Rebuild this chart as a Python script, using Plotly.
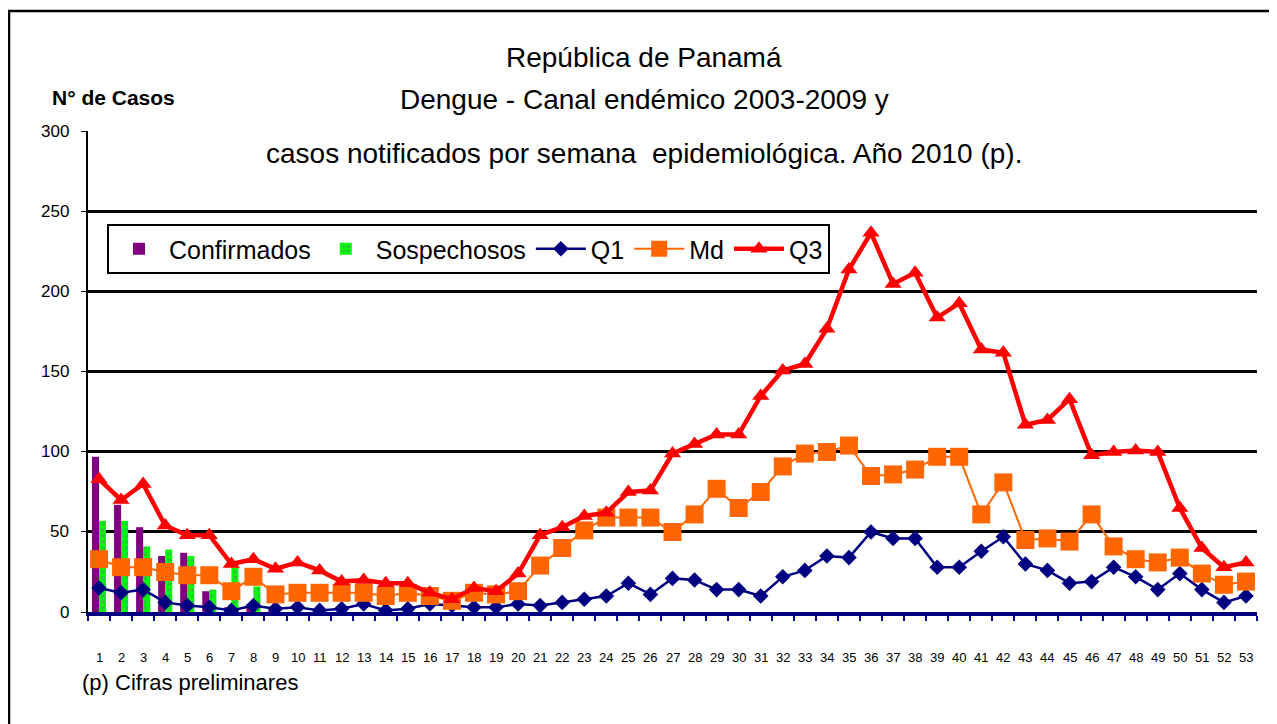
import plotly.graph_objects as go

weeks = [str(i) for i in range(1, 54)]

confirmados = [97, 67, 53, 35, 37, 13, 3, 5, 2] + [None] * 44
sospechosos = [57, 57, 41, 39, 35, 14, 28, 16, 0] + [None] * 44

q1 = [15, 12, 14, 6, 4, 3, 1, 4, 2, 3,
      1, 2, 5, 1, 2, 5, 4, 3, 3, 5,
      4, 6, 8, 10, 18, 11, 21, 20, 14, 14,
      10, 22, 26, 35, 34, 50, 46, 46, 28, 28,
      38, 47, 30, 26, 18, 19, 28, 22, 14, 24,
      14, 6, 10]
md = [33, 28, 28, 25, 23, 23, 13, 22, 11, 12,
      12, 12, 12, 10, 12, 10, 7, 12, 11, 13,
      29, 40, 51, 59, 59, 59, 50, 61, 77, 65,
      75, 91, 99, 100, 104, 85, 86, 89, 97, 97,
      61, 81, 45, 46, 44, 61, 41, 33, 31, 34,
      24, 17, 19]
q3 = [83, 70, 80, 54, 48, 48, 30, 33, 27, 31,
      26, 19, 20, 18, 18, 12, 8, 15, 13, 24,
      48, 53, 60, 62, 75, 76, 99, 105, 111, 111,
      135, 151, 155, 177, 214, 237, 205, 212, 184, 193,
      164, 162, 117, 120, 133, 98, 100, 101, 100, 65,
      40, 28, 31]

y_ticks = [0, 50, 100, 150, 200, 250, 300]

title_lines = ["República de Panamá",
               "Dengue - Canal endémico 2003-2009 y",
               "casos notificados por semana  epidemiológica. Año 2010 (p)."]

FONT = "Liberation Sans Narrow, Arial Narrow, Liberation Sans, Arial, sans-serif"

fig = go.Figure()
fig.add_trace(go.Bar(x=weeks, y=confirmados, name="Confirmados",
                     marker=dict(color="#800080", line=dict(width=0))))
fig.add_trace(go.Bar(x=weeks, y=sospechosos, name="Sospechosos",
                     marker=dict(color="#00FF00", line=dict(width=0),
                                 pattern=dict(shape=".", fgcolor="#4C9A6A",
                                              size=6, solidity=0.45))))
fig.add_trace(go.Scatter(x=weeks, y=q1, name="Q1", mode="lines+markers",
                         line=dict(color="#000080", width=2.5),
                         marker=dict(symbol="diamond", size=12, color="#000080")))
fig.add_trace(go.Scatter(x=weeks, y=md, name="Md", mode="lines+markers",
                         line=dict(color="#FF6600", width=2),
                         marker=dict(symbol="square", size=18, color="#FF6600")))
fig.add_trace(go.Scatter(x=weeks, y=q3, name="Q3", mode="lines+markers",
                         line=dict(color="#FF0000", width=4.5),
                         marker=dict(symbol="triangle-up", size=15, color="#FF0000")))

OFF = 8  # page body margin
W, H = 1277 - OFF, 724 - OFF
L = 88 - OFF
T = 131 - OFF
R = W - (1257 - OFF)
B = H - (612 - OFF)
pw, ph = W - L - R, H - T - B

def px(x):  # screen pixel -> paper x
    return (x - OFF - L) / pw

def py(y):  # screen pixel -> paper y
    return (H - B - (y - OFF)) / ph

fig.update_layout(
    width=W, height=H,
    margin=dict(l=L, r=R, t=T, b=B, autoexpand=False),
    paper_bgcolor="white", plot_bgcolor="white",
    barmode="group", bargap=0.36, bargroupgap=0,
    font=dict(family=FONT, color="black"),
    showlegend=True,
    legend=dict(orientation="h", x=px(107), y=py(224), xanchor="left", yanchor="top",
                bgcolor="white", bordercolor="black", borderwidth=2,
                font=dict(size=25, family=FONT), itemwidth=50,
                tracegroupgap=0, traceorder="normal"),
)
fig.update_xaxes(type="category", range=[-0.5, 52.5], automargin=False,
                 showline=True, linecolor="#000080", linewidth=3.5,
                 ticks="outside", tickson="boundaries", ticklen=5, tickcolor="#000080",
                 tickwidth=1.5, showticklabels=False, showgrid=False)
fig.update_yaxes(range=[0, 300.6], tickvals=y_ticks, showticklabels=False,
                 automargin=False, showline=True, linecolor="black", linewidth=2,
                 ticks="outside", ticklen=5, tickcolor="black",
                 showgrid=True, gridcolor="black", gridwidth=2.5, zeroline=False)

# axis tick labels (category index positions)
for i, w in enumerate(weeks):
    fig.add_annotation(text=w, x=i, xref="x", y=py(657), yref="paper", showarrow=False,
                       font=dict(size=13, family=FONT), xanchor="center", yanchor="middle")
for v in y_ticks:
    fig.add_annotation(text=str(v), x=px(71), xref="paper", y=v, yref="y", showarrow=False,
                       font=dict(size=17, family=FONT), xanchor="right", yanchor="middle")

ys = [57, 99, 154]
for txt, yy in zip(title_lines, ys):
    fig.add_annotation(text=txt, x=px(644), y=py(yy), xref="paper", yref="paper",
                       showarrow=False, font=dict(size=28, family=FONT),
                       xanchor="center", yanchor="middle")
fig.add_annotation(text="<b>N° de Casos</b>", x=px(50), y=py(97), xref="paper", yref="paper",
                   showarrow=False, font=dict(size=21, family=FONT),
                   xanchor="left", yanchor="middle")
fig.add_annotation(text="(p) Cifras preliminares", x=px(80), y=py(682), xref="paper",
                   yref="paper", showarrow=False, font=dict(size=22, family=FONT),
                   xanchor="left", yanchor="middle")
fig.add_shape(type="rect", xref="paper", yref="paper",
              x0=px(9), x1=px(1271), y0=py(760), y1=py(11),
              line=dict(color="black", width=2.5), fillcolor="rgba(0,0,0,0)")

fig.write_html("out.html")
